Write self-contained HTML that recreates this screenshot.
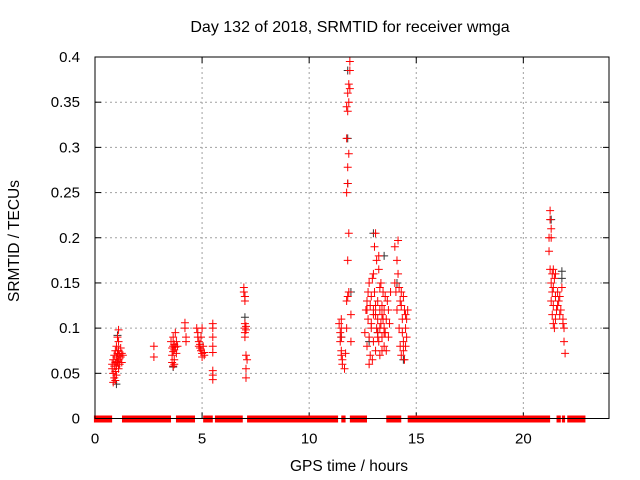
<!DOCTYPE html>
<html><head><meta charset="utf-8"><style>
body{margin:0;background:#fff}
svg{display:block;font-family:"Liberation Sans",sans-serif}
</style></head><body>
<svg id="chart" width="640" height="480" viewBox="0 0 640 480"></svg>
<script>
// ---- data ----
const xTicks=[0,5,10,15,20];
const yTicks=[0,0.05,0.1,0.15,0.2,0.25,0.3,0.35,0.4];
const yTickLabels=["0","0.05","0.1","0.15","0.2","0.25","0.3","0.35","0.4"];
const zeroStart=[-0.05,1.26,3.78,5.05,5.6,7.1,11.5,11.9,13.6,14.6,21.55,21.8,22.05];
const zeroEnd=[0.8,3.55,4.67,5.5,6.9,11.35,11.7,12.7,14.3,21.25,21.75,21.95,22.9];
const blackHours=[1.0,1.05,3.65,7.0,7.0,11.5,11.8,11.8,11.8,11.95,13.0,13.5,14.4,21.3,21.8,21.8,12.8,13.2,14.1];
const blackVals=[0.038,0.092,0.057,0.112,0.135,0.09,0.385,0.31,0.26,0.14,0.205,0.18,0.065,0.22,0.163,0.155,0.085,0.095,0.15];
const redHours=[0.8,0.8,0.85,0.85,0.9,0.9,0.9,0.95,0.95,0.95,1.0,1.0,1.0,1.0,1.05,1.05,1.05,1.1,1.1,1.1,1.1,1.1,1.15,1.15,1.2,1.2,1.25,1.25,0.85,0.95,1.3,
2.75,2.75,
3.55,3.6,3.6,3.6,3.65,3.65,3.65,3.7,3.7,3.7,3.75,3.75,3.8,3.8,3.85,3.65,3.7,
4.2,4.2,4.25,4.25,
4.75,4.8,4.8,4.85,4.85,4.9,4.9,4.95,4.95,5.0,5.0,5.05,5.1,5.1,5.0,
5.5,5.5,5.5,5.5,5.5,5.5,5.5,5.5,
6.95,6.95,7.0,7.0,7.0,7.05,7.0,7.05,7.0,7.0,7.05,7.1,7.05,7.05,
11.5,11.5,11.45,11.5,11.5,11.55,11.55,11.45,11.4,11.5,11.65,11.7,11.75,11.75,11.8,11.85,11.8,11.85,11.75,11.8,11.8,11.85,11.75,11.8,11.75,11.85,11.8,11.9,11.85,11.9,11.9,11.95,11.95,
12.6,12.65,12.7,12.7,12.75,12.75,12.8,12.8,12.85,12.85,12.9,12.9,12.95,12.95,13.0,13.0,13.0,13.05,13.05,13.1,13.1,13.1,13.15,13.15,13.2,13.2,13.2,13.25,13.25,13.3,13.3,13.3,13.35,13.35,13.4,13.4,13.4,13.45,13.45,13.5,13.5,13.5,13.55,13.55,13.6,13.6,13.65,13.7,13.7,13.75,13.8,12.8,12.9,13.0,13.1,13.2,13.3,13.4,13.5,12.7,13.25,
14.0,14.0,14.05,14.1,14.1,14.15,14.2,14.2,14.25,14.25,14.3,14.3,14.35,14.35,14.4,14.4,14.45,14.45,14.5,14.5,14.55,14.55,14.15,14.3,14.4,14.5,14.6,
21.2,21.2,21.25,21.25,21.25,21.3,21.3,21.3,21.35,21.35,21.35,21.4,21.4,21.4,21.45,21.45,21.5,21.5,21.5,21.55,21.6,21.6,21.65,21.7,21.7,21.75,21.8,21.85,21.85,21.9,21.9,21.95,21.3,21.4];
const redVals=[0.06,0.055,0.05,0.065,0.045,0.058,0.07,0.075,0.062,0.052,0.08,0.068,0.058,0.048,0.09,0.072,0.063,0.098,0.085,0.075,0.065,0.055,0.07,0.06,0.078,0.068,0.072,0.062,0.04,0.042,0.07,
0.08,0.068,
0.085,0.078,0.07,0.062,0.09,0.08,0.074,0.082,0.076,0.065,0.095,0.079,0.085,0.072,0.08,0.058,0.06,
0.106,0.1,0.09,0.085,
0.1,0.095,0.09,0.085,0.08,0.082,0.078,0.09,0.075,0.1,0.072,0.08,0.073,0.07,0.068,
0.105,0.1,0.09,0.08,0.073,0.053,0.048,0.043,
0.145,0.14,0.135,0.13,0.105,0.102,0.1,0.098,0.095,0.09,0.07,0.065,0.055,0.045,
0.1,0.09,0.085,0.075,0.07,0.065,0.06,0.095,0.105,0.11,0.055,0.072,0.1,0.13,0.135,0.14,0.175,0.205,0.25,0.26,0.278,0.293,0.31,0.34,0.345,0.35,0.36,0.365,0.37,0.385,0.395,0.085,0.115,
0.095,0.12,0.08,0.13,0.14,0.11,0.15,0.09,0.125,0.07,0.135,0.1,0.155,0.065,0.16,0.12,0.085,0.19,0.14,0.205,0.115,0.075,0.175,0.1,0.13,0.095,0.11,0.18,0.085,0.12,0.1,0.07,0.15,0.105,0.125,0.09,0.075,0.14,0.11,0.1,0.12,0.08,0.135,0.095,0.11,0.075,0.13,0.12,0.09,0.105,0.14,0.06,0.105,0.115,0.125,0.09,0.145,0.115,0.095,0.12,0.165,
0.19,0.15,0.14,0.175,0.12,0.16,0.145,0.1,0.13,0.08,0.14,0.07,0.11,0.095,0.085,0.075,0.12,0.065,0.115,0.1,0.11,0.09,0.197,0.125,0.135,0.08,0.12,
0.2,0.185,0.23,0.22,0.165,0.21,0.15,0.13,0.16,0.14,0.115,0.145,0.125,0.105,0.155,0.1,0.16,0.135,0.11,0.12,0.14,0.125,0.13,0.115,0.135,0.12,0.145,0.105,0.11,0.1,0.085,0.072,0.2,0.165];
// ---- layout ----
const L=95,R=609,T=57,B=418.5;
const xS=h=>L+(h/24)*(R-L);
const yS=v=>B-(v/0.4)*(B-T);
const svg=document.getElementById('chart');
const NS='http://www.w3.org/2000/svg';
function mk(tag,attrs,parent){const e=document.createElementNS(NS,tag);for(const k in attrs)e.setAttribute(k,attrs[k]);(parent||svg).appendChild(e);return e;}
// grid
yTicks.forEach((v,i)=>{
  if(v>0&&v<0.4){const g=mk('line',{x1:L,x2:R,y1:yS(v),y2:yS(v),stroke:'#a0a0a0','stroke-dasharray':'2,3'});
  
  }
  mk('line',{x1:L,x2:L+6,y1:yS(v),y2:yS(v),stroke:'#000'});
  mk('line',{x1:R,x2:R-6,y1:yS(v),y2:yS(v),stroke:'#000'});
  const t=mk('text',{x:L-15,y:yS(v)+5,'text-anchor':'end','font-size':15});
  t.textContent=yTickLabels[i];
  
  
});
xTicks.forEach(h=>{
  if(h>0){const g=mk('line',{x1:xS(h),x2:xS(h),y1:T,y2:B,stroke:'#a0a0a0','stroke-dasharray':'2,3'});
  
  }
  mk('line',{x1:xS(h),x2:xS(h),y1:B,y2:B-6,stroke:'#000'});
  mk('line',{x1:xS(h),x2:xS(h),y1:T,y2:T+6,stroke:'#000'});
  const t=mk('text',{x:xS(h),y:B+25,'text-anchor':'middle','font-size':15});
  t.textContent=String(h);
  
  
});
// zero bars
zeroStart.forEach((s,i)=>{
  const r=mk('rect',{x:xS(s),y:B-3,width:xS(zeroEnd[i])-xS(s),height:7,fill:'#ff0000'});
  
  
});
function plus(x,y,c,name){
  const p=mk('path',{d:`M${x-4},${y}h8M${x},${y-4}v8`,stroke:c,'stroke-width':1,fill:'none'});
  
  
}
blackHours.forEach((h,i)=>plus(xS(h),yS(blackVals[i]),'#333','black-point'));
redHours.forEach((h,i)=>plus(xS(h),yS(redVals[i]),'#ff0000','red-point'));
// border
const b=mk('rect',{x:L,y:T,width:R-L,height:B-T,fill:'none',stroke:'#000'});


</script>
<svg style="position:absolute;left:0;top:0" width="640" height="480">
<text x="350" y="32" text-anchor="middle" font-size="16" font-family="Liberation Sans, sans-serif">Day 132 of 2018, SRMTID for receiver wmga</text>
<text x="349" y="471" text-anchor="middle" font-size="15.5" font-family="Liberation Sans, sans-serif">GPS time / hours</text>
<text x="0" y="0" transform="translate(19,241) rotate(-90)" text-anchor="middle" font-size="15.5" font-family="Liberation Sans, sans-serif">SRMTID / TECUs</text>
</svg>
</body></html>
